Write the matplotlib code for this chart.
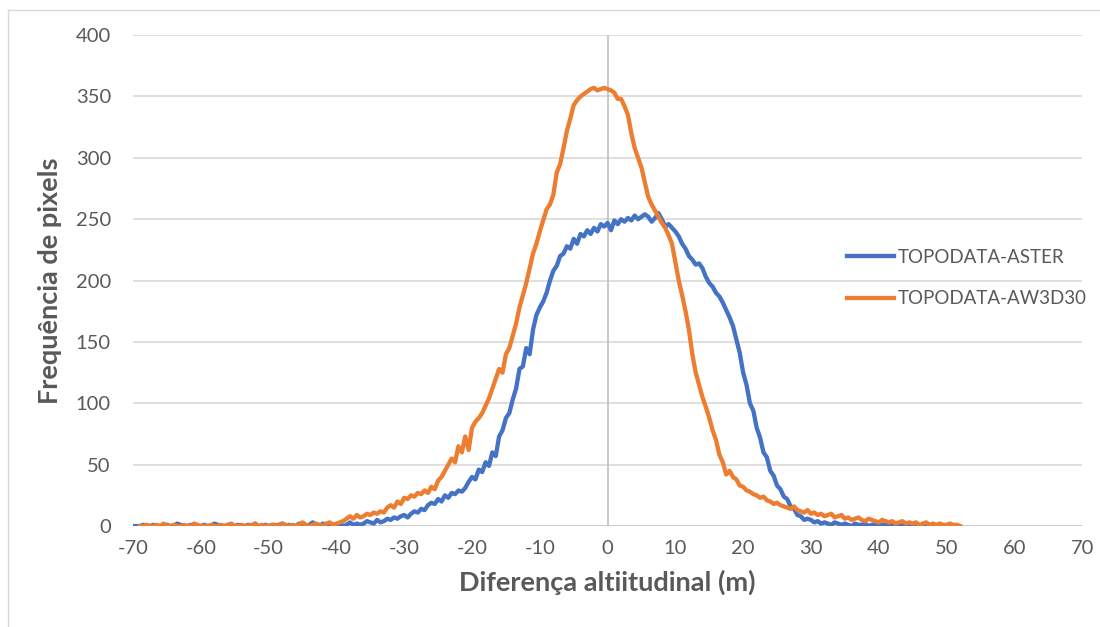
import numpy as np
import matplotlib
matplotlib.use("Agg")
import matplotlib.pyplot as plt
from matplotlib.lines import Line2D

plt.rcParams['font.family'] = ['Lato', 'DejaVu Sans']
plt.rcParams['axes.unicode_minus'] = False

# Frequency of pixels per altitude difference (0.5 m bins)
aster_x = np.arange(-70, 50.5, 0.5)
aster_freq = [
    0, 0, 0, 1, 0, 0, 1, 0, 0, 0, 1, 0, 0, 2, 1, 0, 0, 1, 0, 0,
    0, 1, 0, 0, 2, 1, 0, 0, 1, 0, 0, 1, 0, 0, 1, 0, 2, 0, 0, 1,
    0, 1, 0, 1, 2, 0, 1, 0, 0, 2, 1, 0, 1, 3, 1, 0, 2, 1, 0, 1,
    1, 2, 0, 1, 3, 1, 2, 1, 2, 4, 3, 2, 5, 3, 4, 6, 5, 7, 6, 8,
    9, 7, 10, 12, 11, 14, 13, 17, 19, 18, 22, 20, 25, 23, 27, 26, 29, 28, 31, 36,
    40, 38, 46, 44, 52, 49, 60, 57, 73, 78, 88, 92, 103, 112, 128, 130, 145, 140, 160, 172,
    178, 183, 190, 200, 208, 212, 220, 222, 228, 226, 234, 230, 238, 236, 241, 238, 243, 240, 246, 244,
    247, 241, 249, 246, 250, 248, 251, 249, 253, 250, 252, 254, 252, 248, 251, 255, 250, 244, 246, 243,
    240, 236, 230, 226, 220, 217, 213, 214, 210, 203, 198, 195, 190, 187, 182, 176, 170, 163, 152, 141,
    125, 115, 100, 94, 80, 72, 60, 56, 45, 41, 33, 30, 24, 22, 16, 14, 9, 8, 5, 6,
    5, 3, 4, 2, 3, 2, 1, 3, 2, 1, 2, 1, 0, 2, 1, 1, 2, 0, 1, 1,
    0, 1, 1, 0, 2, 1, 0, 1, 0, 1, 1, 0, 1, 0, 0, 1, 0, 0, 1, 0, 0,
]

aw3d_x = np.arange(-69, 52.5, 0.5)
aw3d_freq = [
    0, 0, 1, 0, 0, 1, 0, 2, 0, 0, 1, 0, 0, 1, 0, 0, 2, 1, 0, 0,
    0, 1, 0, 0, 1, 0, 1, 2, 0, 0, 1, 0, 0, 1, 2, 0, 1, 0, 0, 1,
    1, 0, 2, 1, 0, 1, 0, 1, 3, 1, 0, 1, 2, 1, 0, 2, 3, 1, 2, 3,
    4, 6, 8, 6, 9, 7, 8, 10, 9, 11, 10, 12, 11, 15, 17, 15, 20, 18, 23, 22,
    25, 24, 27, 26, 29, 27, 32, 30, 37, 40, 45, 50, 55, 52, 65, 60, 73, 62, 80, 85,
    88, 92, 98, 104, 112, 120, 128, 125, 140, 145, 155, 165, 178, 188, 198, 210, 222, 230, 240, 249,
    258, 262, 270, 288, 295, 308, 322, 332, 343, 347, 350, 352, 354, 356, 357, 355, 356, 357, 356, 355,
    353, 348, 348, 342, 335, 320, 308, 300, 292, 280, 268, 262, 257, 252, 247, 243, 237, 230, 215, 200,
    188, 175, 160, 140, 125, 115, 105, 97, 88, 78, 70, 58, 52, 42, 45, 40, 38, 33, 32, 29,
    28, 26, 25, 23, 24, 21, 20, 18, 19, 17, 16, 15, 14, 16, 13, 12, 11, 13, 10, 11,
    9, 10, 8, 9, 10, 7, 8, 9, 6, 7, 5, 6, 7, 5, 4, 6, 5, 4, 3, 5,
    4, 3, 4, 2, 3, 4, 2, 3, 2, 3, 1, 2, 3, 1, 2, 1, 2, 1, 1, 2,
    1, 1, 0,
]

x_ticks = list(range(-70, 71, 10))
y_ticks = list(range(0, 401, 50))

BLUE = "#4472C4"
ORANGE = "#ED7D31"
TXT = "#595959"

fig = plt.figure(figsize=(11, 6.27), dpi=100)
ax = fig.add_axes([0.121, 0.161, 0.8627, 0.783])

# chart area border (partially cut off in the source)
fig.add_artist(Line2D([8 / 1100, 8 / 1100], [0, 1 - 10 / 627], color="#D9D9D9", lw=1))
fig.add_artist(Line2D([8 / 1100, 1], [1 - 10 / 627, 1 - 10 / 627], color="#D9D9D9", lw=1))

for y in y_ticks[1:]:
    ax.axhline(y, color="#D9D9D9", lw=1.2, zorder=0)
ax.axhline(0, color="#BFBFBF", lw=1.2, zorder=1)
ax.axvline(0, color="#BFBFBF", lw=1.2, zorder=1)

ax.plot(aster_x, aster_freq, color=BLUE, lw=3.1, label="TOPODATA-ASTER", zorder=3,
        solid_joinstyle="round")
ax.plot(aw3d_x, aw3d_freq, color=ORANGE, lw=3.1, label="TOPODATA-AW3D30", zorder=4,
        solid_joinstyle="round")

ax.set_xlim(-70, 70)
ax.set_ylim(0, 400)
ax.set_xticks(x_ticks)
ax.set_yticks(y_ticks)
ax.tick_params(length=0, labelsize=14.5, colors=TXT)
ax.tick_params(axis="x", pad=10)
ax.tick_params(axis="y", pad=16)
for s in ax.spines.values():
    s.set_visible(False)

ax.set_xlabel("Diferença altiitudinal (m)", fontsize=19.5, fontweight="bold", color=TXT, labelpad=9)
ax.set_ylabel("Frequência de pixels", fontsize=19.5, fontweight="bold", color=TXT, labelpad=10)

ax.legend(loc="center left", bbox_to_anchor=(0.735, 0.505), frameon=False, fontsize=13.5,
          labelcolor=TXT, handlelength=2.5, handletextpad=0.2, labelspacing=1.3)

plt.savefig("out.png", dpi=100)
